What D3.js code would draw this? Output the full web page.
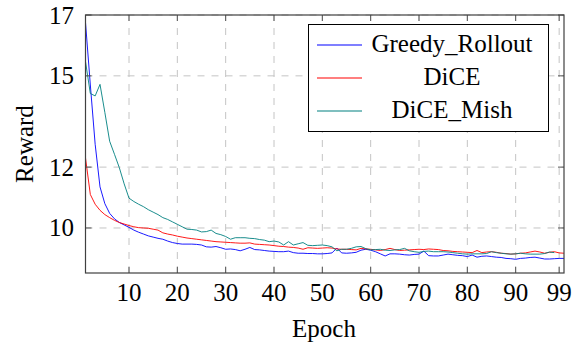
<!DOCTYPE html>
<html>
<head>
<meta charset="utf-8">
<script src="https://cdn.jsdelivr.net/npm/d3@7/dist/d3.min.js"></script>
<style>
  body { margin: 0; background: #fff; }
  text { font-family: "Liberation Serif", "Times New Roman", serif; fill: #000; }
</style>
</head>
<body>
<div id="chart"></div>
<script>
// reward per epoch
const greedyRollout = [16.75, 14.7, 12.75, 11.35, 10.8, 10.48, 10.3, 10.18, 10.1, 10.02,
  9.93, 9.86, 9.8, 9.74, 9.7, 9.66, 9.63, 9.57, 9.52, 9.49,
  9.47, 9.47, 9.47, 9.46, 9.44, 9.38, 9.37, 9.39, 9.35, 9.3,
  9.31, 9.29, 9.25, 9.3, 9.36, 9.29, 9.28, 9.26, 9.24, 9.23,
  9.22, 9.22, 9.24, 9.19, 9.17, 9.17, 9.16, 9.16, 9.15, 9.15,
  9.16, 9.18, 9.34, 9.18, 9.17, 9.18, 9.2, 9.27, 9.3, 9.27,
  9.22, 9.15, 9.08, 9.15, 9.15, 9.14, 9.12, 9.11, 9.13, 9.14,
  9.24, 9.09, 9.08, 9.08, 9.11, 9.14, 9.12, 9.1, 9.09, 9.06,
  9.11, 9.04, 9.07, 9.08, 9.06, 9.04, 9.03, 9.0, 8.99, 8.97,
  9.0, 9.01, 9.03, 9.04, 9.01, 8.98, 8.98, 8.99, 9.0, 9.0];

const dice = [12.3, 11.1, 10.78, 10.58, 10.44, 10.34, 10.25, 10.18, 10.13, 10.08,
  10.04, 10.01, 10.0, 9.99, 9.96, 9.93, 9.84, 9.8, 9.77, 9.73,
  9.7, 9.67, 9.65, 9.63, 9.61, 9.59, 9.57, 9.55, 9.54, 9.53,
  9.52, 9.51, 9.5, 9.5, 9.51, 9.47, 9.46, 9.45, 9.44, 9.42,
  9.4, 9.39, 9.37, 9.36, 9.34, 9.3, 9.35, 9.34, 9.33, 9.34,
  9.35, 9.34, 9.31, 9.3, 9.3, 9.29, 9.28, 9.33, 9.31, 9.3,
  9.28, 9.26, 9.29, 9.33, 9.29, 9.26, 9.27, 9.28, 9.29, 9.3,
  9.29, 9.31, 9.3, 9.29, 9.26, 9.25, 9.23, 9.22, 9.21, 9.2,
  9.19, 9.26, 9.19, 9.21, 9.22, 9.2, 9.17, 9.16, 9.14, 9.15,
  9.17, 9.18, 9.21, 9.24, 9.21, 9.17, 9.2, 9.22, 9.18, 9.17];

const diceMish = [15.47, 14.42, 14.34, 14.72, 13.8, 12.85, 12.42, 11.98, 11.45, 10.98,
  10.87, 10.78, 10.7, 10.6, 10.52, 10.44, 10.34, 10.28, 10.2, 10.12,
  10.04, 9.96, 9.95, 9.93, 9.87, 9.88, 9.93, 9.82, 9.78, 9.72,
  9.63, 9.68, 9.68, 9.68, 9.66, 9.65, 9.62, 9.6, 9.55, 9.57,
  9.54, 9.44, 9.55, 9.44, 9.48, 9.52, 9.43, 9.42, 9.43, 9.44,
  9.42, 9.38, 9.25, 9.3, 9.3, 9.33, 9.38, 9.39, 9.32, 9.28,
  9.29, 9.3, 9.27, 9.26, 9.28, 9.29, 9.33, 9.25, 9.22, 9.2,
  9.23, 9.24, 9.22, 9.22, 9.22, 9.21, 9.19, 9.17, 9.15, 9.14,
  9.15, 9.15, 9.15, 9.16, 9.22, 9.19, 9.17, 9.15, 9.14, 9.15,
  9.17, 9.15, 9.14, 9.14, 9.14, 9.16, 9.21, 9.19];

const seriesNames = ["Greedy_Rollout", "DiCE", "DiCE_Mish"];
const seriesColors = ["#0000ff", "#ff0000", "#008080"];
const xTicks = [10, 20, 30, 40, 50, 60, 70, 80, 90, 99];
const yTicks = [10, 12, 15, 17];

const width = 582, height = 349;
const plotLeft = 85.5, plotRight = 564, plotTop = 15, plotBottom = 273;
const fontSize = "25px";

const svg = d3.select("#chart").append("svg")
  .attr("width", width)
  .attr("height", height);

const x = d3.scaleLinear().domain([1, 100]).range([plotLeft, plotRight]);
const y = d3.scaleLinear().domain([8.52, 17]).range([plotBottom, plotTop]);

// grid
svg.append("g").selectAll("line")
  .data(xTicks).enter().append("line")
  .attr("x1", d => x(d)).attr("x2", d => x(d))
  .attr("y1", plotBottom).attr("y2", plotTop)
  .attr("stroke", "#c4c4c4").attr("stroke-dasharray", "7,7");
svg.append("g").selectAll("line")
  .data(yTicks).enter().append("line")
  .attr("x1", plotLeft).attr("x2", plotRight)
  .attr("y1", d => y(d)).attr("y2", d => y(d))
  .attr("stroke", "#c4c4c4").attr("stroke-dasharray", "7,7");

// lines
const line = d3.line().x((d, i) => x(i + 1)).y(d => y(d));
[greedyRollout, dice, diceMish].forEach((s, k) => {
  svg.append("path")
    .datum(s)
    .attr("d", line)
    .attr("fill", "none")
    .attr("stroke", seriesColors[k])
    .attr("stroke-width", 0.9);
});

// ticks inside the frame, on all four sides
const tk = 6;
svg.append("g").selectAll("line")
  .data(xTicks).enter().append("line")
  .attr("x1", d => x(d)).attr("x2", d => x(d))
  .attr("y1", plotBottom).attr("y2", plotBottom - tk)
  .attr("stroke", "#555");
svg.append("g").selectAll("line")
  .data(xTicks).enter().append("line")
  .attr("x1", d => x(d)).attr("x2", d => x(d))
  .attr("y1", plotTop).attr("y2", plotTop + tk)
  .attr("stroke", "#555");
svg.append("g").selectAll("line")
  .data(yTicks).enter().append("line")
  .attr("x1", plotLeft).attr("x2", plotLeft + tk)
  .attr("y1", d => y(d)).attr("y2", d => y(d))
  .attr("stroke", "#555");
svg.append("g").selectAll("line")
  .data(yTicks).enter().append("line")
  .attr("x1", plotRight).attr("x2", plotRight - tk)
  .attr("y1", d => y(d)).attr("y2", d => y(d))
  .attr("stroke", "#555");

// frame
svg.append("rect")
  .attr("x", plotLeft).attr("y", plotTop)
  .attr("width", plotRight - plotLeft).attr("height", plotBottom - plotTop)
  .attr("fill", "none").attr("stroke", "#404040").attr("stroke-width", 1.2);

// tick labels
svg.append("g").selectAll("text")
  .data(xTicks).enter().append("text")
  .attr("x", d => x(d)).attr("y", 300.5)
  .attr("text-anchor", "middle")
  .style("font-size", fontSize)
  .text(d => d);
svg.append("g").selectAll("text")
  .data(yTicks).enter().append("text")
  .attr("x", 74).attr("y", d => y(d) + 8.5)
  .attr("text-anchor", "end")
  .style("font-size", fontSize)
  .text(d => d);

// axis titles
svg.append("text")
  .attr("x", 324).attr("y", 336.5)
  .attr("text-anchor", "middle")
  .style("font-size", fontSize)
  .text("Epoch");
svg.append("text")
  .attr("transform", "translate(33," + (plotTop + plotBottom) / 2 + ") rotate(-90)")
  .attr("text-anchor", "middle")
  .style("font-size", fontSize)
  .text("Reward");

// legend
const legend = svg.append("g");
legend.append("rect")
  .attr("x", 308.5).attr("y", 24.5)
  .attr("width", 240).attr("height", 107)
  .attr("fill", "#fff").attr("stroke", "#000");
seriesNames.forEach((name, k) => {
  const ly = 45 + k * 33;
  legend.append("line")
    .attr("x1", 317).attr("x2", 362)
    .attr("y1", ly).attr("y2", ly)
    .attr("stroke", seriesColors[k]).attr("stroke-width", 1.1);
  legend.append("text")
    .attr("x", 452).attr("y", ly + 7)
    .attr("text-anchor", "middle")
    .style("font-size", fontSize)
    .text(name);
});
</script>
</body>
</html>
